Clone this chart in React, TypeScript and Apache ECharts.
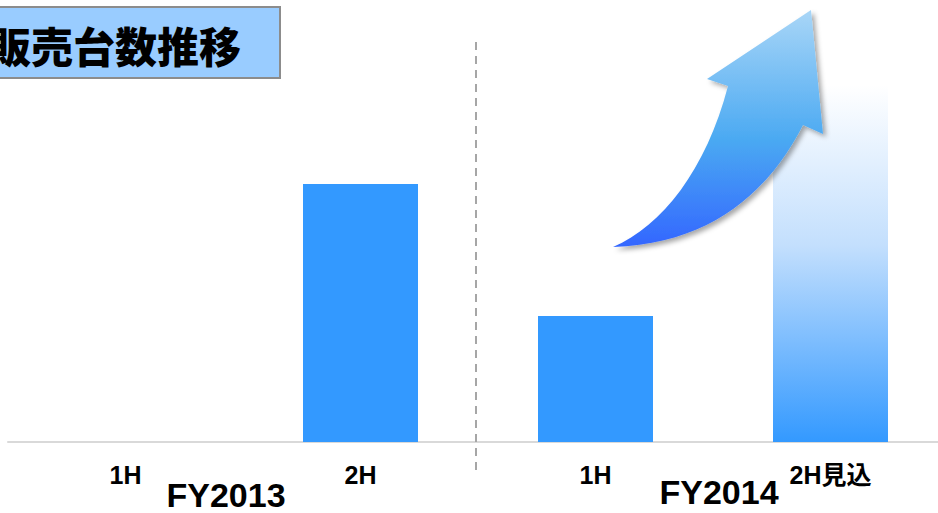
import React, { useEffect, useRef } from "react";
import * as echarts from "echarts";

const categories = ["1H", "2H", "1H", "2H見込"];
const solidValues = [0, 258, 126, null];
const forecastValues = [null, null, null, 357];
const fiscalYears = ["FY2013", "FY2014"];
const titleText = "販売台数推移";

const arrowPath =
  "M613,247 C662,226 706,170 728,86 L707,79 L811,10 L823,134 L803,125 C772,186 716,244 613,247 Z";

export default function App() {
  const ref = useRef<HTMLDivElement>(null);
  useEffect(() => {
    if (!ref.current) return;
    echarts.graphic.registerShape("logo", echarts.graphic.extendPath(arrowPath, {}));
    const chart = echarts.init(ref.current, null, { renderer: "svg" });
    const labelFont = '"Liberation Sans", Arial, sans-serif';
    chart.setOption({
      animation: false,
      grid: { left: 8, right: 2, top: 0, bottom: 71, containLabel: false },
      xAxis: {
        type: "category",
        data: categories,
        axisLine: { show: true, lineStyle: { color: "#d9d9d9", width: 2 } },
        axisTick: { show: false },
        axisLabel: {
          margin: 20,
          fontSize: 25,
          fontWeight: "bold",
          color: "#000",
          fontFamily: labelFont + ', "Noto Sans CJK JP"',
        },
      },
      yAxis: {
        type: "value",
        min: 0,
        max: 442,
        show: false,
        splitLine: { show: false },
      },
      series: [
        {
          type: "bar",
          data: solidValues,
          barWidth: 115,
          barGap: "-100%",
          itemStyle: { color: "#3399ff" },
        },
        {
          type: "bar",
          data: forecastValues,
          barWidth: 115,
          itemStyle: {
            color: new echarts.graphic.LinearGradient(0, 0, 0, 1, [
              { offset: 0, color: "#ffffff" },
              { offset: 0.45, color: "#c3dffd" },
              { offset: 1, color: "#3399ff" },
            ]),
          },
        },
      ],
      graphic: [
        {
          type: "line",
          shape: { x1: 476, y1: 42, x2: 476, y2: 470 },
          style: { stroke: "#a6a6a6", lineWidth: 2, lineDash: [8, 6] },
          z: 5,
        },
        {
          type: "rect",
          shape: { x: -4, y: 7, width: 284, height: 71 },
          style: {
            fill: "#99ccff",
            stroke: "#8c8c8c",
            lineWidth: 2,
          },
          z: 10,
        },
        {
          type: "text",
          x: 241,
          y: 44,
          style: {
            text: titleText,
            fontSize: 42,
            fontWeight: 900,
            fontFamily: '"Noto Sans CJK JP", sans-serif',
            fill: "#000",
            align: "right",
            verticalAlign: "middle",
          },
          z: 11,
        },
        {
          type: "logo",
          x: 0,
          y: 0,
          style: {
            fill: {
              type: "linear",
              x: 0,
              y: 0,
              x2: 0,
              y2: 1,
              colorStops: [
                { offset: 0, color: "#a9d6f7" },
                { offset: 0.55, color: "#4aa9f2" },
                { offset: 1, color: "#3366ff" },
              ],
            },
            shadowBlur: 5,
            shadowOffsetX: 3,
            shadowOffsetY: 3,
            shadowColor: "rgba(0,0,0,0.35)",
          },
          z: 20,
        },
        {
          type: "text",
          x: 226,
          y: 495,
          style: {
            text: fiscalYears[0],
            fontSize: 34,
            fontWeight: "bold",
            fontFamily: labelFont,
            fill: "#000",
            align: "center",
            verticalAlign: "middle",
          },
        },
        {
          type: "text",
          x: 719,
          y: 492,
          style: {
            text: fiscalYears[1],
            fontSize: 34,
            fontWeight: "bold",
            fontFamily: labelFont,
            fill: "#000",
            align: "center",
            verticalAlign: "middle",
          },
        },
      ],
    });
    return () => chart.dispose();
  }, []);
  return (
    <div
      ref={ref}
      style={{ position: "fixed", left: 0, top: 0, width: 950, height: 513, background: "#fff" }}
    />
  );
}
